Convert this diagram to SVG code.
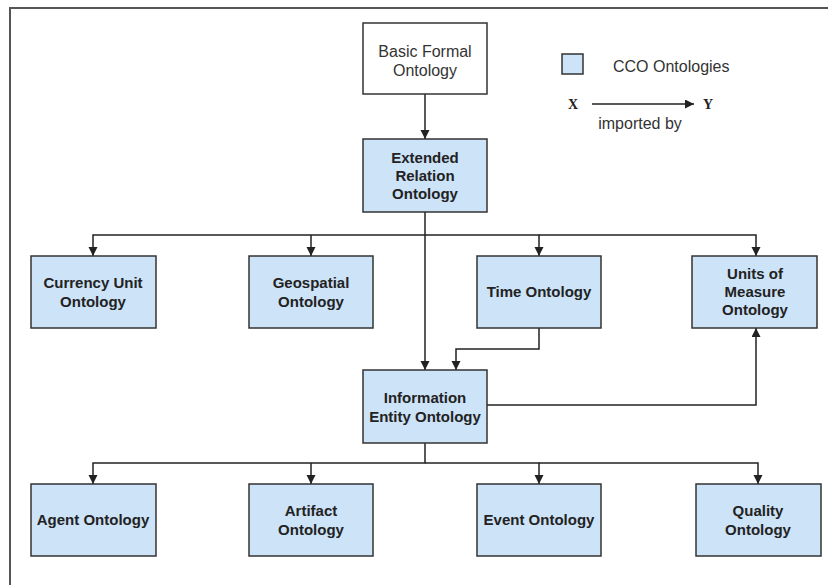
<svg xmlns="http://www.w3.org/2000/svg" width="828" height="585" viewBox="0 0 828 585">
<style>
.box{fill:#cde3f8;stroke:#333;stroke-width:1.5}
.wbox{fill:#fff;stroke:#333;stroke-width:1.5}
.t{font-family:"Liberation Sans",Arial,sans-serif;font-size:15px;font-weight:bold;fill:#222;text-anchor:middle}
.n{font-family:"Liberation Sans",Arial,sans-serif;font-size:16px;fill:#333;text-anchor:middle}
.c{fill:none;stroke:#222;stroke-width:1.5}
.m{font-family:"Liberation Serif","Times New Roman",serif;font-size:14px;font-weight:bold;fill:#222;text-anchor:middle}
</style>
<defs>
<marker id="ah" markerUnits="userSpaceOnUse" markerWidth="10" markerHeight="10" refX="9" refY="4.5" orient="auto">
<path d="M0,0 L9,4.5 L0,9 z" fill="#222"/>
</marker>
</defs>
<rect width="828" height="585" fill="#fff"/>
<path d="M10,585 V8 H828" fill="none" stroke="#555" stroke-width="2"/>

<g id="legend">
<rect x="562" y="54" width="21" height="20" class="box" stroke-width="1"/>
<text x="613" y="72" class="n" style="text-anchor:start">CCO Ontologies</text>
<text x="573" y="109" class="m">X</text>
<line x1="592" y1="104" x2="694" y2="104" class="c" marker-end="url(#ah)" stroke-width="1.2"/>
<text x="708" y="109" class="m">Y</text>
<text x="640" y="129" class="n">imported by</text>
</g>

<g id="connectors">
<path class="c" d="M425,94 V139" marker-end="url(#ah)"/>
<path class="c" d="M425,212 V370" marker-end="url(#ah)"/>
<path class="c" d="M425,235 H93 V256" marker-end="url(#ah)"/>
<path class="c" d="M311,235 V256" marker-end="url(#ah)"/>
<path class="c" d="M425,235 H539 V256" marker-end="url(#ah)"/>
<path class="c" d="M539,235 H756 V256" marker-end="url(#ah)"/>
<path class="c" d="M539,328 V349 H456 V370" marker-end="url(#ah)"/>
<path class="c" d="M487,405 H756 V328" marker-end="url(#ah)"/>
<path class="c" d="M425,443 V463 H93 V484" marker-end="url(#ah)"/>
<path class="c" d="M311,463 V484" marker-end="url(#ah)"/>
<path class="c" d="M425,463 H539 V484" marker-end="url(#ah)"/>
<path class="c" d="M539,463 H758 V484" marker-end="url(#ah)"/>
</g>

<g id="bfo">
<rect x="363" y="23" width="124" height="71" class="wbox"/>
<text x="425" y="57" class="n">Basic Formal</text>
<text x="425" y="76" class="n">Ontology</text>
</g>
<g id="ero">
<rect x="363" y="139" width="124" height="73" class="box"/>
<text x="425" y="163" class="t">Extended</text>
<text x="425" y="181" class="t">Relation</text>
<text x="425" y="199" class="t">Ontology</text>
</g>
<g id="currency">
<rect x="31" y="256" width="125" height="72" class="box"/>
<text x="93" y="288" class="t">Currency Unit</text>
<text x="93" y="307" class="t">Ontology</text>
</g>
<g id="geospatial">
<rect x="249" y="256" width="124" height="72" class="box"/>
<text x="311" y="288" class="t">Geospatial</text>
<text x="311" y="307" class="t">Ontology</text>
</g>
<g id="time">
<rect x="477" y="256" width="124" height="72" class="box"/>
<text x="539" y="297" class="t">Time Ontology</text>
</g>
<g id="units">
<rect x="692" y="256" width="125" height="72" class="box"/>
<text x="755" y="279" class="t">Units of</text>
<text x="755" y="297" class="t">Measure</text>
<text x="755" y="315" class="t">Ontology</text>
</g>
<g id="ieo">
<rect x="363" y="370" width="124" height="73" class="box"/>
<text x="425" y="403" class="t">Information</text>
<text x="425" y="422" class="t">Entity Ontology</text>
</g>
<g id="agent">
<rect x="31" y="484" width="125" height="72" class="box"/>
<text x="93" y="525" class="t">Agent Ontology</text>
</g>
<g id="artifact">
<rect x="249" y="484" width="124" height="72" class="box"/>
<text x="311" y="516" class="t">Artifact</text>
<text x="311" y="535" class="t">Ontology</text>
</g>
<g id="event">
<rect x="477" y="484" width="124" height="72" class="box"/>
<text x="539" y="525" class="t">Event Ontology</text>
</g>
<g id="quality">
<rect x="696" y="484" width="125" height="72" class="box"/>
<text x="758" y="516" class="t">Quality</text>
<text x="758" y="535" class="t">Ontology</text>
</g>
</svg>
